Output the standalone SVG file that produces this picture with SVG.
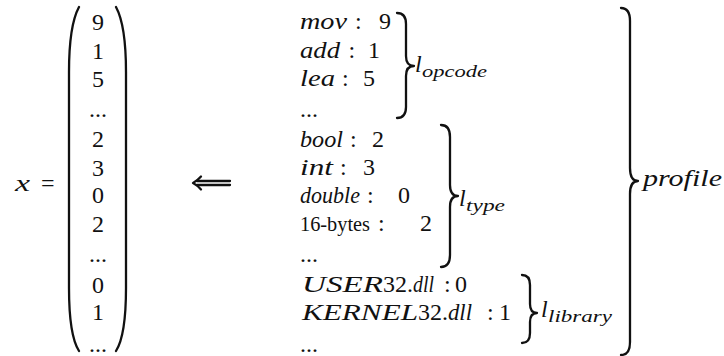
<svg xmlns="http://www.w3.org/2000/svg" width="724" height="356" viewBox="0 0 724 356">
  <style>
    text { font-family: "Liberation Serif", "Times New Roman", serif; fill: #111; }
    .mi { font-style: italic; font-size: 24px; }
    .rm { font-size: 24px; }
    .sub { font-style: italic; font-size: 17px; }
    .vec { font-size: 24px; text-anchor: middle; }
    .delim { fill: none; stroke: #111; stroke-width: 2.3; stroke-linecap: round; stroke-linejoin: round; }
  </style>

  <!-- x = ( vector ) -->
  <g id="vector">
    <text class="mi" x="15" y="191" textLength="15" lengthAdjust="spacingAndGlyphs">x</text>
    <text class="rm" x="41" y="191">=</text>
    <path class="delim" d="M79 7 C72 20 69 42 69 72 L69 288 C69 318 72 340 79 351"/>
    <path class="delim" d="M116 7 C123 20 126 42 126 72 L126 288 C126 318 123 340 116 351"/>
    <text class="vec" x="98" y="30">9</text>
    <text class="vec" x="98" y="59">1</text>
    <text class="vec" x="98" y="87">5</text>
    <text class="vec" x="98" y="117">...</text>
    <text class="vec" x="98" y="147">2</text>
    <text class="vec" x="98" y="176">3</text>
    <text class="vec" x="98" y="203">0</text>
    <text class="vec" x="98" y="232">2</text>
    <text class="vec" x="98" y="262">...</text>
    <text class="vec" x="98" y="293">0</text>
    <text class="vec" x="98" y="320">1</text>
    <text class="vec" x="98" y="352">...</text>
  </g>

  <!-- long double arrow pointing left -->
  <g id="connectors">
    <path class="delim" stroke-width="1.3" d="M197 181 L230 181 M197 185 L230 185"/>
    <path class="delim" stroke-width="1.4" d="M201 176.5 Q197 181 193 183 Q197 185 201 189.5"/>
  </g>

  <!-- opcode counts -->
  <g id="opcode">
    <text class="mi" x="300" y="29" textLength="47" lengthAdjust="spacingAndGlyphs">mov</text>
    <text class="rm" x="355" y="29">:</text>
    <text class="rm" x="379" y="29">9</text>
    <text class="mi" x="300" y="58" textLength="40" lengthAdjust="spacingAndGlyphs">add</text>
    <text class="rm" x="348.5" y="58">:</text>
    <text class="rm" x="368" y="58">1</text>
    <text class="mi" x="300" y="86" textLength="35" lengthAdjust="spacingAndGlyphs">lea</text>
    <text class="rm" x="342" y="86">:</text>
    <text class="rm" x="363" y="86">5</text>
    <text class="rm" x="300" y="117">...</text>
    <path class="delim" d="M397 13 Q406 13 406 24 L406 56 Q406 66 414 66 Q406 66 406 76 L406 107 Q406 118 397 118"/>
    <text class="mi" x="415" y="72">l</text>
    <text class="sub" x="422" y="77" textLength="65" lengthAdjust="spacingAndGlyphs">opcode</text>
  </g>

  <!-- type counts -->
  <g id="type">
    <text class="mi" x="300" y="147" textLength="43" lengthAdjust="spacingAndGlyphs">bool</text>
    <text class="rm" x="350" y="147">:</text>
    <text class="rm" x="372" y="147">2</text>
    <text class="mi" x="300" y="175" textLength="33" lengthAdjust="spacingAndGlyphs">int</text>
    <text class="rm" x="340" y="175">:</text>
    <text class="rm" x="363" y="175">3</text>
    <text class="mi" x="300" y="203" textLength="60" lengthAdjust="spacingAndGlyphs">double</text>
    <text class="rm" x="367" y="203">:</text>
    <text class="rm" x="398" y="203">0</text>
    <text x="300" y="231" style="font-size:21.5px" textLength="70" lengthAdjust="spacingAndGlyphs">16-bytes</text>
    <text class="rm" x="378" y="231">:</text>
    <text class="rm" x="420" y="231">2</text>
    <text class="rm" x="300" y="262">...</text>
    <path class="delim" d="M441 125 Q450 125 450 137 L450 185 Q450 196 458 196 Q450 196 450 207 L450 255 Q450 267 441 267"/>
    <text class="mi" x="459" y="206">l</text>
    <text class="sub" x="466" y="211" textLength="39" lengthAdjust="spacingAndGlyphs">type</text>
  </g>

  <!-- library counts -->
  <g id="library">
    <text class="mi" x="302" y="292" textLength="81" lengthAdjust="spacingAndGlyphs">USER</text>
    <text class="rm" x="383" y="292">32.</text>
    <text class="mi" x="413" y="292" textLength="21" lengthAdjust="spacingAndGlyphs">dll</text>
    <text class="rm" x="444" y="292">:</text>
    <text class="rm" x="455" y="292">0</text>
    <text class="mi" x="302" y="320" textLength="116" lengthAdjust="spacingAndGlyphs">KERNEL</text>
    <text class="rm" x="418" y="320">32.</text>
    <text class="mi" x="448" y="320" textLength="24" lengthAdjust="spacingAndGlyphs">dll</text>
    <text class="rm" x="487" y="320">:</text>
    <text class="rm" x="499" y="320">1</text>
    <text class="rm" x="300" y="352">...</text>
    <path class="delim" d="M522 275 Q530 275 530 285 L530 304 Q530 313 537 313 Q530 313 530 322 L530 333 Q530 343 522 343"/>
    <text class="mi" x="541" y="317">l</text>
    <text class="sub" x="548" y="322" textLength="64" lengthAdjust="spacingAndGlyphs">library</text>
  </g>

  <!-- whole profile -->
  <g id="profile">
    <path class="delim" d="M621 8 Q630 8 630 21 L630 168 Q630 181 638 181 Q630 181 630 194 L630 342 Q630 355 621 355"/>
    <text class="mi" x="643" y="186" textLength="79" lengthAdjust="spacingAndGlyphs">profile</text>
  </g>
</svg>
